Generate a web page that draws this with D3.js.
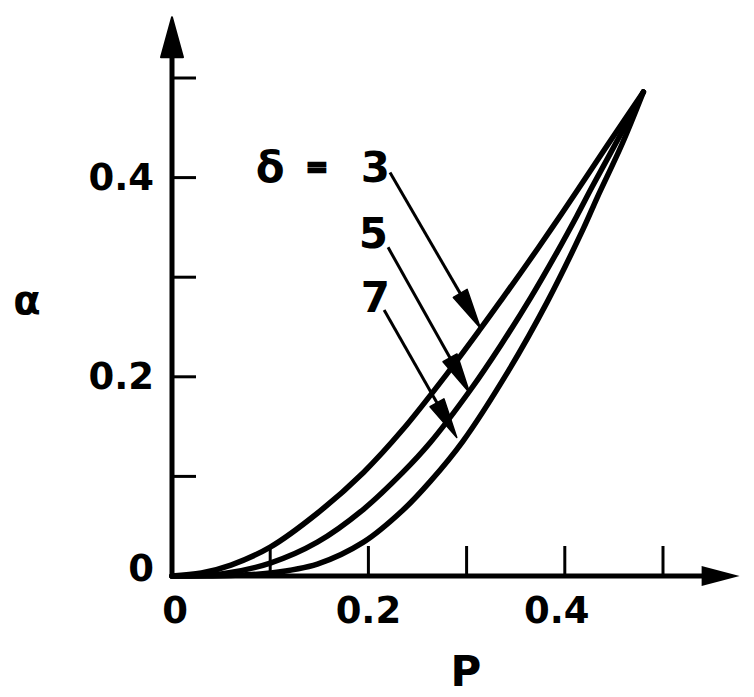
<!DOCTYPE html>
<html>
<head>
<meta charset="utf-8">
<script src="https://cdn.jsdelivr.net/npm/d3@7"></script>
<style>
  html, body { margin: 0; padding: 0; background: #fff; }
  svg { display: block; }
  text { font-family: "DejaVu Sans", sans-serif; font-weight: bold; fill: #000; }
</style>
</head>
<body>
<svg id="chart" width="754" height="697"></svg>
<script>
// ---- data ----
const curveDelta3 = [[0,0],[0.03,0.003],[0.06,0.011],[0.1,0.029],[0.148,0.063],[0.195,0.104],[0.235,0.147],[0.28,0.203],[0.314,0.248],[0.336,0.278],[0.362,0.314],[0.388,0.351],[0.412,0.386],[0.443,0.432],[0.48,0.486]];
const curveDelta5 = [[0,0],[0.05,0.002],[0.1,0.013],[0.148,0.034],[0.195,0.067],[0.235,0.104],[0.263,0.134],[0.304,0.187],[0.335,0.232],[0.365,0.279],[0.392,0.325],[0.412,0.361],[0.428,0.391],[0.455,0.44],[0.48,0.486]];
const curveDelta7 = [[0,0],[0.06,0.0005],[0.1,0.003],[0.148,0.012],[0.195,0.034],[0.235,0.066],[0.263,0.095],[0.296,0.135],[0.342,0.205],[0.382,0.275],[0.419,0.349],[0.433,0.38],[0.458,0.433],[0.48,0.486]];
const xTicks = [0.1, 0.2, 0.3, 0.4, 0.5];
const yTicks = [0.1, 0.2, 0.3, 0.4, 0.5];
const xTickLabels = [[0, "0"], [0.2, "0.2"], [0.4, "0.4"]];
const yTickLabels = [[0, "0"], [0.2, "0.2"], [0.4, "0.4"]];
const xAxisLabel = "P";
const yAxisLabel = "α";
// annotation: label, label position (p, a), leader start (p, a), tip on curve (p, a)
const annoLabels = ["3", "5", "7"];
const annoLabelPos = [[0.207, 0.411], [0.205, 0.344], [0.207, 0.280]];
const annoStart = [[0.222, 0.405], [0.220, 0.330], [0.216, 0.267]];
const annoTip = [[0.314, 0.249], [0.303, 0.184], [0.290, 0.139]];
const deltaLabelPos = [0.1, 0.411];

// ---- scales ----
const svg = d3.select("#chart");
const x = d3.scaleLinear().domain([0, 0.5]).range([172, 663]);
const y = d3.scaleLinear().domain([0, 0.5]).range([576, 78]);

// ---- axes ----
const axisG = svg.append("g");
const xEnd = x(0.578), yEnd = y(0.561);
axisG.append("line").attr("x1", x(0) - 2).attr("y1", y(0)).attr("x2", xEnd - 20).attr("y2", y(0))
  .attr("stroke", "#000").attr("stroke-width", 5);
axisG.append("line").attr("x1", x(0)).attr("y1", y(0) + 2).attr("x2", x(0)).attr("y2", yEnd + 20)
  .attr("stroke", "#000").attr("stroke-width", 5);
// axis arrowheads
axisG.append("path")
  .attr("d", `M${xEnd},${y(0)} L${xEnd - 38},${y(0) - 10} L${xEnd - 38},${y(0) + 10} Z`)
  .attr("fill", "#000");
axisG.append("path")
  .attr("d", `M${x(0)},${yEnd} L${x(0) - 11},${yEnd + 40} L${x(0) + 11},${yEnd + 40} Z`)
  .attr("fill", "#000").attr("stroke", "#000").attr("stroke-width", 2).attr("stroke-linejoin", "round");

// ticks (pointing inward)
axisG.selectAll(".xt").data(xTicks).join("line")
  .attr("x1", d => x(d)).attr("x2", d => x(d))
  .attr("y1", y(0)).attr("y2", y(0) - 30)
  .attr("stroke", "#000").attr("stroke-width", 3);
axisG.selectAll(".yt").data(yTicks).join("line")
  .attr("x1", x(0)).attr("x2", x(0) + 24)
  .attr("y1", d => y(d)).attr("y2", d => y(d))
  .attr("stroke", "#000").attr("stroke-width", 3);

// tick labels
axisG.selectAll(".xl").data(xTickLabels).join("text")
  .attr("x", d => x(d[0]) + (d[0] === 0 ? 3 : (d[0] === 0.4 ? -8 : 0)))
  .attr("y", y(0) + 34).attr("dy", "0.36em")
  .attr("text-anchor", "middle").attr("font-size", 37)
  .text(d => d[1]);
axisG.selectAll(".yl").data(yTickLabels).join("text")
  .attr("x", x(0) - 18)
  .attr("y", d => y(d[0]) - (d[0] === 0 ? 8 : 1)).attr("dy", "0.36em")
  .attr("text-anchor", "end").attr("font-size", 37)
  .text(d => d[1]);

// axis titles
svg.append("text").attr("x", 466).attr("y", 671).attr("dy", "0.36em")
  .attr("text-anchor", "middle").attr("font-size", 42).text(xAxisLabel);
svg.append("text").attr("x", 27).attr("y", 303).attr("dy", "0.28em")
  .attr("text-anchor", "middle").attr("font-size", 40).text(yAxisLabel);

// ---- curves ----
const line = d3.line().x(d => x(d[0])).y(d => y(d[1])).curve(d3.curveCatmullRom.alpha(0.5));
[curveDelta3, curveDelta5, curveDelta7].forEach(c => {
  svg.append("path").attr("d", line(c)).attr("fill", "none")
    .attr("stroke", "#000").attr("stroke-width", 5.5)
    .attr("stroke-linecap", "round").attr("stroke-linejoin", "round");
});

// ---- annotations ----
svg.append("text").attr("x", x(deltaLabelPos[0])).attr("y", y(deltaLabelPos[1])).attr("dy", "0.36em")
  .attr("text-anchor", "middle").attr("font-size", 42).text("δ");
svg.append("text").attr("x", 317).attr("y", y(deltaLabelPos[1])).attr("dy", "0.36em")
  .attr("text-anchor", "middle").attr("font-size", 26)
  .attr("stroke", "#000").attr("stroke-width", 2.5).text("=");

annoLabels.forEach((lab, i) => {
  svg.append("text").attr("x", x(annoLabelPos[i][0])).attr("y", y(annoLabelPos[i][1])).attr("dy", "0.36em")
    .attr("text-anchor", "middle").attr("font-size", 42).text(lab);
  const sx = x(annoStart[i][0]), sy = y(annoStart[i][1]);
  const tx = x(annoTip[i][0]), ty = y(annoTip[i][1]);
  const dx = tx - sx, dy = ty - sy, L = Math.hypot(dx, dy);
  const ux = dx / L, uy = dy / L;
  const headLen = 40, headW = 8;
  const bx = tx - ux * headLen, by = ty - uy * headLen;
  svg.append("line").attr("x1", sx).attr("y1", sy).attr("x2", bx + ux * 4).attr("y2", by + uy * 4)
    .attr("stroke", "#000").attr("stroke-width", 3);
  svg.append("path")
    .attr("d", `M${tx},${ty} L${bx - uy * headW},${by + ux * headW} L${bx + uy * headW},${by - ux * headW} Z`)
    .attr("fill", "#000").attr("stroke", "#000").attr("stroke-width", 1.5).attr("stroke-linejoin", "round");
});
</script>
</body>
</html>
